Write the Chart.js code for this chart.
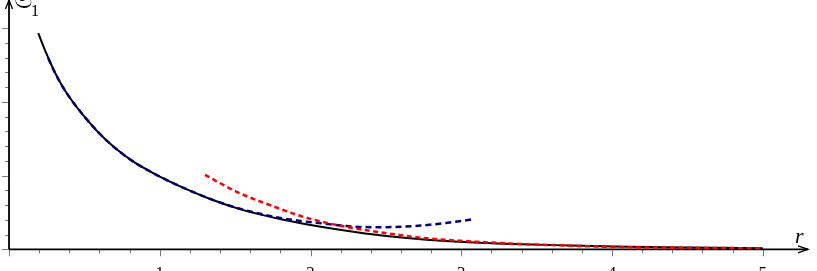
<!DOCTYPE html>
<html>
<head>
<meta charset="utf-8">
<script src="https://cdn.jsdelivr.net/npm/chart.js@4"></script>
<style>
html, body { margin:0; padding:0; background:#fff; overflow:hidden; width:817px; height:271px; }
/* canvas is a bit larger than the window, so tick labels get cropped like in the original */
#wrap { position:absolute; left:-50px; top:0; width:867px; height:300px; }
</style>
</head>
<body>
<div id="wrap"><canvas id="chart"></canvas></div>
<script>
// exact curve S1(r) (black)
const exactR = [0.194, 0.25, 0.30, 0.36, 0.43, 0.50, 0.60, 0.70, 0.82, 0.95, 1.05, 1.20, 1.33, 1.51, 1.65, 1.82, 2.00, 2.13, 2.42, 2.77, 3.12, 3.40, 3.72, 4.01, 4.5, 5.0];
const exactS = [2.93, 2.645, 2.415, 2.19, 1.98, 1.80, 1.57, 1.38, 1.195, 1.04, 0.935, 0.795, 0.685, 0.558, 0.48, 0.40, 0.33, 0.285, 0.20, 0.13, 0.088, 0.068, 0.052, 0.038, 0.024, 0.014];

// small-r series (navy, dashed)
const seriesR = [0.26, 0.30, 0.36, 0.43, 0.50, 0.60, 0.70, 0.82, 0.95, 1.05, 1.20, 1.33, 1.51, 1.65, 1.80, 1.95, 2.06, 2.24, 2.40, 2.56, 2.73, 2.90, 3.08];
const seriesS = [2.595, 2.415, 2.19, 1.98, 1.80, 1.57, 1.38, 1.195, 1.04, 0.935, 0.795, 0.687, 0.562, 0.49, 0.425, 0.38, 0.355, 0.315, 0.30, 0.302, 0.322, 0.357, 0.407];

// large-r asymptotic (red, dashed)
const asymR = [1.30, 1.51, 1.73, 1.95, 2.12, 2.29, 2.51, 2.77, 3.10, 3.39, 3.72, 4.01, 4.5, 5.0];
const asymS = [1.01, 0.78, 0.60, 0.442, 0.353, 0.285, 0.217, 0.149, 0.103, 0.072, 0.049, 0.031, 0.02, 0.014];

const xTickValues = [0, 1, 2, 3, 4, 5];
const xTickLabels = ['', '1', '2', '3', '4', '5'];
const yTickValues = [0, 1, 2, 3];

const toPts = (xs, ys) => xs.map((v, i) => ({ x: v, y: ys[i] }));

const SERIF = "'Liberation Serif', 'DejaVu Serif', serif";

// axes with arrow heads and major/minor ticks, plus the r and S1 labels
const arrowAxes = {
  id: 'arrowAxes',
  beforeDatasetsDraw(chart) {
    const { ctx, chartArea, scales: { x, y } } = chart;
    const x0 = x.getPixelForValue(0), y0 = y.getPixelForValue(0);
    const line = (a, b, c, d) => { ctx.beginPath(); ctx.moveTo(a, b); ctx.lineTo(c, d); ctx.stroke(); };
    ctx.save();
    ctx.strokeStyle = '#7a7a7a';
    ctx.lineWidth = 1;
    for (let i = 0; i <= 25; i++) {
      const px = Math.round(x.getPixelForValue(i * 0.2)) + 0.5;
      line(px, y0, px, y0 + (i % 5 === 0 ? 7 : 4));
    }
    for (let i = 0; i <= 15; i++) {
      const py = Math.round(y.getPixelForValue(i * 0.2)) + 0.5;
      line(x0, py, x0 - (i % 5 === 0 ? 7 : 4), py);
    }
    ctx.strokeStyle = '#000';
    ctx.lineWidth = 1.8;
    line(x0, y0, chartArea.right, y0);
    line(x0, y0, x0, chartArea.top);
    ctx.lineWidth = 1.3;
    ctx.beginPath();
    ctx.moveTo(chartArea.right - 10, y0 - 3.5);
    ctx.lineTo(chartArea.right, y0);
    ctx.lineTo(chartArea.right - 10, y0 + 3.5);
    ctx.stroke();
    ctx.beginPath();
    ctx.moveTo(x0 - 3.5, chartArea.top + 9);
    ctx.lineTo(x0, chartArea.top);
    ctx.lineTo(x0 + 3.5, chartArea.top + 9);
    ctx.stroke();
    ctx.restore();
  },
  afterDraw(chart) {
    const { ctx, chartArea, scales: { x, y } } = chart;
    const x0 = x.getPixelForValue(0), y0 = y.getPixelForValue(0);
    ctx.save();
    ctx.fillStyle = '#000';
    ctx.textBaseline = 'alphabetic';
    ctx.textAlign = 'left';
    ctx.font = 'italic 22px ' + SERIF;
    ctx.fillText('r', chartArea.right - 13, y0 - 6);
    ctx.font = '26px ' + SERIF;
    ctx.fillText('𝔖', x0 + 5, chartArea.top + 8);
    ctx.font = '16px ' + SERIF;
    ctx.fillText('1', x0 + 22, chartArea.top + 16);
    ctx.restore();
  }
};

new Chart(document.getElementById('chart'), {
  type: 'scatter',
  data: {
    datasets: [
      {
        label: 'asymptotic', data: toPts(asymR, asymS),
        showLine: true, borderColor: '#ff0000', borderWidth: 2.5, borderDash: [5, 3.5],
        pointRadius: 0, cubicInterpolationMode: 'monotone'
      },
      {
        label: 'series', data: toPts(seriesR, seriesS),
        showLine: true, borderColor: '#00007f', borderWidth: 2.5, borderDash: [6, 4],
        pointRadius: 0, cubicInterpolationMode: 'monotone'
      },
      {
        label: 'S1', data: toPts(exactR, exactS),
        showLine: true, borderColor: '#000000', borderWidth: 2,
        pointRadius: 0, cubicInterpolationMode: 'monotone'
      }
    ]
  },
  options: {
    responsive: true,
    maintainAspectRatio: false,
    animation: false,
    layout: { padding: { left: 0, right: 9, top: 0, bottom: 0 } },
    plugins: { legend: { display: false }, tooltip: { enabled: false } },
    scales: {
      x: {
        type: 'linear', min: 0, max: 5.3,
        grid: { display: false }, border: { display: false },
        afterBuildTicks: s => { s.ticks = xTickValues.map(v => ({ value: v })); },
        afterFit: s => { s.height = 50.7; },
        ticks: {
          color: '#000', padding: 6, maxRotation: 0,
          font: { family: SERIF, size: 17 },
          callback: (v) => xTickLabels[xTickValues.indexOf(v)] ?? ''
        }
      },
      y: {
        type: 'linear', min: 0, max: 3.38,
        grid: { display: false }, border: { display: false },
        afterBuildTicks: s => { s.ticks = yTickValues.map(v => ({ value: v })); },
        afterFit: s => { s.width = 59; },
        ticks: { display: false }
      }
    }
  },
  plugins: [arrowAxes]
});
</script>
</body>
</html>
